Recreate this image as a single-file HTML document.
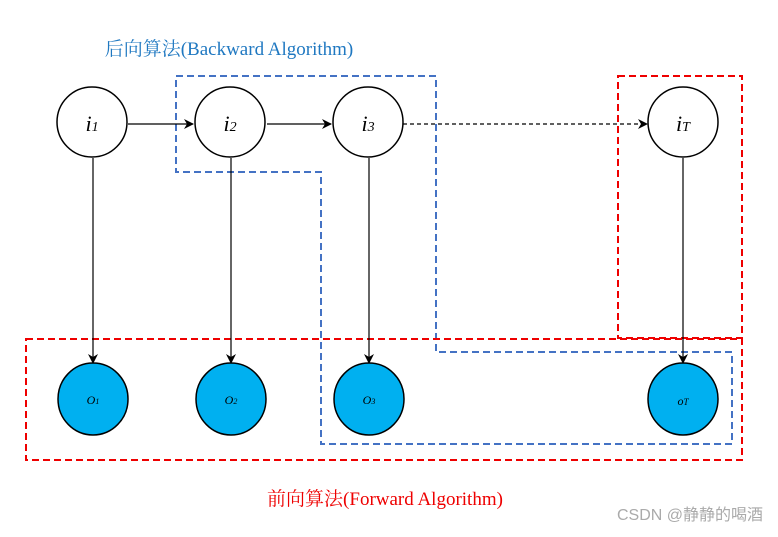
<!DOCTYPE html>
<html><head><meta charset="utf-8"><style>body{margin:0;background:#fff}</style></head><body>
<svg width="778" height="532" viewBox="0 0 778 532" xmlns="http://www.w3.org/2000/svg">
<defs><marker id="a" markerWidth="10" markerHeight="10" refX="9" refY="5" orient="auto" markerUnits="userSpaceOnUse"><path d="M0,0 L10,5 L0,10 L3,5 Z" fill="#000"/></marker></defs>
<text x="229" y="55" text-anchor="middle" font-family="'Liberation Serif','Noto Serif CJK SC',serif" font-size="19" fill="#1f78c1">后向算法(Backward Algorithm)</text>
<text x="385" y="505" text-anchor="middle" font-family="'Liberation Serif','Noto Serif CJK SC',serif" font-size="19" fill="#e00">前向算法(Forward Algorithm)</text>
<text x="763" y="520" text-anchor="end" font-family="'Liberation Sans','Noto Sans CJK SC',sans-serif" font-size="16" fill="#aaa">CSDN @静静的喝酒</text>
<g fill="none" stroke-width="2" stroke-dasharray="7,4">
<path d="M176,76 H436 V352 H732 V444 H321 V172 H176 Z" stroke="#4472c4"/>
<rect x="618" y="76" width="124" height="262" stroke="#e00"/>
<rect x="26" y="339" width="716" height="121" stroke="#e00"/>
</g>
<g stroke="#000" stroke-width="1.2" fill="none">
<line x1="128" y1="124" x2="193" y2="124" marker-end="url(#a)"/>
<line x1="267" y1="124" x2="331" y2="124" marker-end="url(#a)"/>
<line x1="403" y1="124" x2="647" y2="124" stroke-dasharray="4,3" marker-end="url(#a)"/>
<line x1="93" y1="158" x2="93" y2="363" marker-end="url(#a)"/>
<line x1="231" y1="158" x2="231" y2="363" marker-end="url(#a)"/>
<line x1="369" y1="158" x2="369" y2="363" marker-end="url(#a)"/>
<line x1="683" y1="158" x2="683" y2="363" marker-end="url(#a)"/>
</g>
<g fill="#fff" stroke="#000" stroke-width="1.5">
<circle cx="92" cy="122" r="35"/><circle cx="230" cy="122" r="35"/><circle cx="368" cy="122" r="35"/><circle cx="683" cy="122" r="35"/>
</g>
<g fill="#00b0f0" stroke="#000" stroke-width="1.5">
<ellipse cx="93" cy="399" rx="35" ry="36"/><ellipse cx="231" cy="399" rx="35" ry="36"/><ellipse cx="369" cy="399" rx="35" ry="36"/><ellipse cx="683" cy="399" rx="35" ry="36"/>
</g>
<g font-family="'Liberation Serif',serif" font-style="italic" text-anchor="middle">
<text x="92" y="131" font-size="22">i<tspan font-size="14">1</tspan></text>
<text x="230" y="131" font-size="22">i<tspan font-size="14">2</tspan></text>
<text x="368" y="131" font-size="22">i<tspan font-size="14">3</tspan></text>
<text x="683" y="131" font-size="22">i<tspan font-size="14">T</tspan></text>
<text x="93" y="404" font-size="12">O<tspan font-size="8">1</tspan></text>
<text x="231" y="404" font-size="12">O<tspan font-size="8">2</tspan></text>
<text x="369" y="404" font-size="12">O<tspan font-size="8">3</tspan></text>
<text x="683" y="405" font-size="12">o<tspan font-size="9">T</tspan></text>
</g>
</svg>
</body></html>
